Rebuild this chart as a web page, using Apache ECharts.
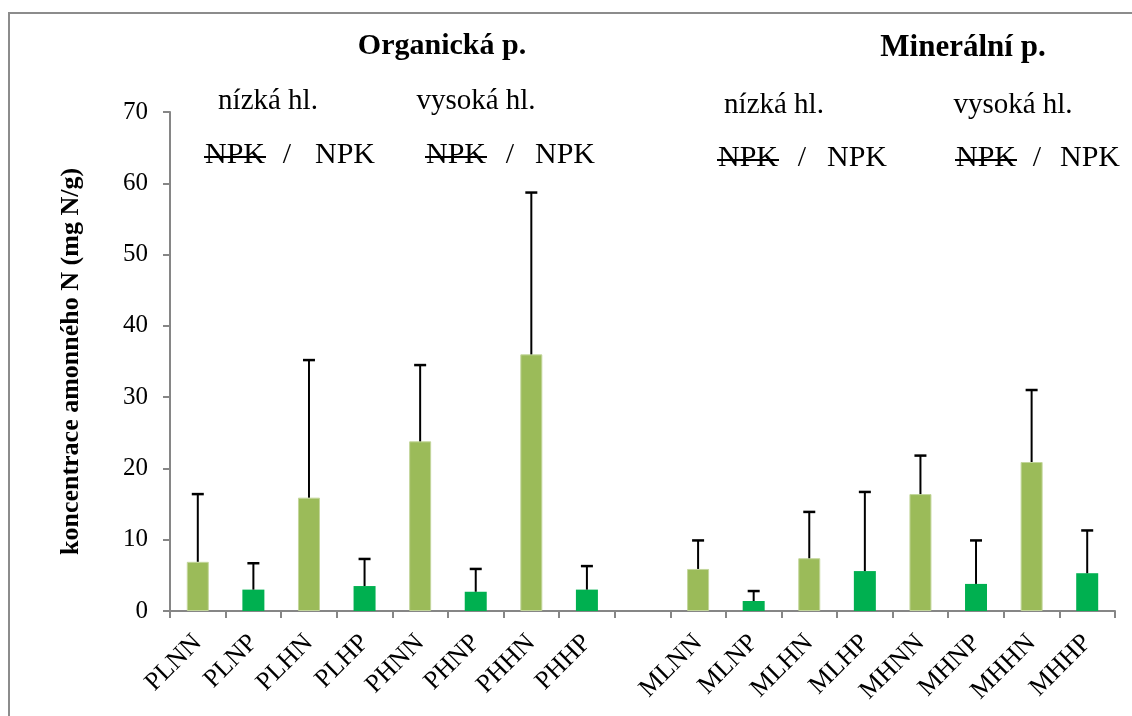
<!DOCTYPE html>
<html>
<head>
<meta charset="utf-8">
<script src="https://cdn.jsdelivr.net/npm/echarts@6/dist/echarts.min.js"></script>
<style>
html,body{margin:0;padding:0;background:#fff;}
#chart{width:1132px;height:716px;}
</style>
</head>
<body>
<div id="chart"></div>
<script>
// ---- data ----
var categories = ['PLNN','PLNP','PLHN','PLHP','PHNN','PHNP','PHHN','PHHP','', 'MLNN','MLNP','MLHN','MLHP','MHNN','MHNP','MHHN','MHHP'];
var means  = [6.9, 3.0, 15.9, 3.5, 23.8, 2.7, 36.0, 3.0, null, 5.9, 1.4, 7.4, 5.6, 16.4, 3.8, 20.9, 5.3];
var upper  = [16.4, 6.7, 35.2, 7.3, 34.5, 5.9, 58.7, 6.3, null, 9.9, 2.8, 13.9, 16.7, 21.8, 9.9, 31.0, 11.3];
var yTicks = [0, 10, 20, 30, 40, 50, 60, 70];
var groupTitles = ['Organická p.', 'Minerální p.'];
var depthLabels = ['nízká hl.', 'vysoká hl.', 'nízká hl.', 'vysoká hl.'];
var yName = 'koncentrace amonného N (mg N/g)';

var colorNoNPK = '#9BBB59';
var colorNPK = '#00B050';
var FONT = 'Liberation Serif';

var barData = means.map(function (v, i) {
  if (v === null) return '-';
  var isNPK = categories[i].charAt(3) === 'P';
  return {
    value: v,
    itemStyle: isNPK ? { color: colorNPK } : { color: colorNoNPK, borderColor: '#C3D69B', borderWidth: 1 }
  };
});
var errData = [];
means.forEach(function (v, i) { if (v !== null) errData.push([i, v, upper[i]]); });

// header text graphics
function txt(x, y, s, size, bold) {
  return { type: 'text', x: x, y: y, style: { text: s, fontFamily: FONT, fontSize: size, fontWeight: bold ? 'bold' : 'normal', fill: '#000', align: 'center', verticalAlign: 'middle' } };
}
function npkRow(xStruck, xSlash, xPlain, y) {
  return [
    txt(xStruck, y, 'NPK', 30, false),
    { type: 'line', shape: { x1: xStruck - 31, y1: y + 2, x2: xStruck + 31, y2: y + 2 }, style: { stroke: '#000', lineWidth: 2 } },
    txt(xSlash, y, '/', 30, false),
    txt(xPlain, y, 'NPK', 30, false)
  ];
}
var graphics = [
  { type: 'rect', shape: { x: 9, y: 13, width: 1200, height: 800 }, style: { fill: 'none', stroke: '#8C8C8C', lineWidth: 2 }, silent: true },
  txt(442, 46, groupTitles[0], 30, true),
  txt(963, 48, groupTitles[1], 31, true),
  txt(268, 101, depthLabels[0], 29, false),
  txt(476, 101, depthLabels[1], 29, false),
  txt(774, 105, depthLabels[2], 29, false),
  txt(1013, 105, depthLabels[3], 29, false)
].concat(npkRow(235, 287, 345, 155), npkRow(456, 510, 565, 155), npkRow(748, 802, 857, 158), npkRow(986, 1037, 1090, 158));

var chart = echarts.init(document.getElementById('chart'), null, { renderer: 'canvas' });
chart.setOption({
  backgroundColor: '#fff',
  animation: false,
  grid: { left: 170, right: 17, top: 112, bottom: 105, containLabel: false },
  xAxis: {
    type: 'category',
    data: categories,
    axisLine: { lineStyle: { color: '#868686', width: 2 } },
    axisTick: { show: true, length: 7, lineStyle: { color: '#868686', width: 2 } },
    axisLabel: { rotate: 45, fontFamily: FONT, fontSize: 26, color: '#000', margin: 28, interval: 0 }
  },
  yAxis: {
    type: 'value',
    min: 0, max: 70, interval: 10,
    name: yName,
    nameLocation: 'middle',
    nameGap: 86,
    nameTextStyle: { fontFamily: FONT, fontSize: 26, fontWeight: 'bold', color: '#000' },
    axisLine: { show: true, lineStyle: { color: '#868686', width: 2 } },
    axisTick: { show: true, length: 7, lineStyle: { color: '#868686', width: 2 } },
    splitLine: { show: false },
    axisLabel: {
      fontFamily: FONT, fontSize: 25, color: '#000', margin: 22,
      formatter: function (v) { return yTicks.indexOf(v) >= 0 ? String(v) : ''; }
    }
  },
  series: [
    { type: 'bar', data: barData, barWidth: 22, z: 2 },
    {
      type: 'custom', z: 3,
      data: errData,
      encode: { x: 0, y: [1, 2] },
      renderItem: function (params, api) {
        var x = api.value(0), lo = api.value(1), hi = api.value(2);
        var p0 = api.coord([x, lo]), p1 = api.coord([x, hi]);
        var hw = 6;
        return {
          type: 'group',
          children: [
            { type: 'line', shape: { x1: p0[0], y1: p0[1], x2: p1[0], y2: p1[1] }, style: { stroke: '#000', lineWidth: 2 } },
            { type: 'line', shape: { x1: p1[0] - hw, y1: p1[1], x2: p1[0] + hw, y2: p1[1] }, style: { stroke: '#000', lineWidth: 2.5 } }
          ]
        };
      }
    }
  ],
  graphic: graphics
});
</script>
</body>
</html>
